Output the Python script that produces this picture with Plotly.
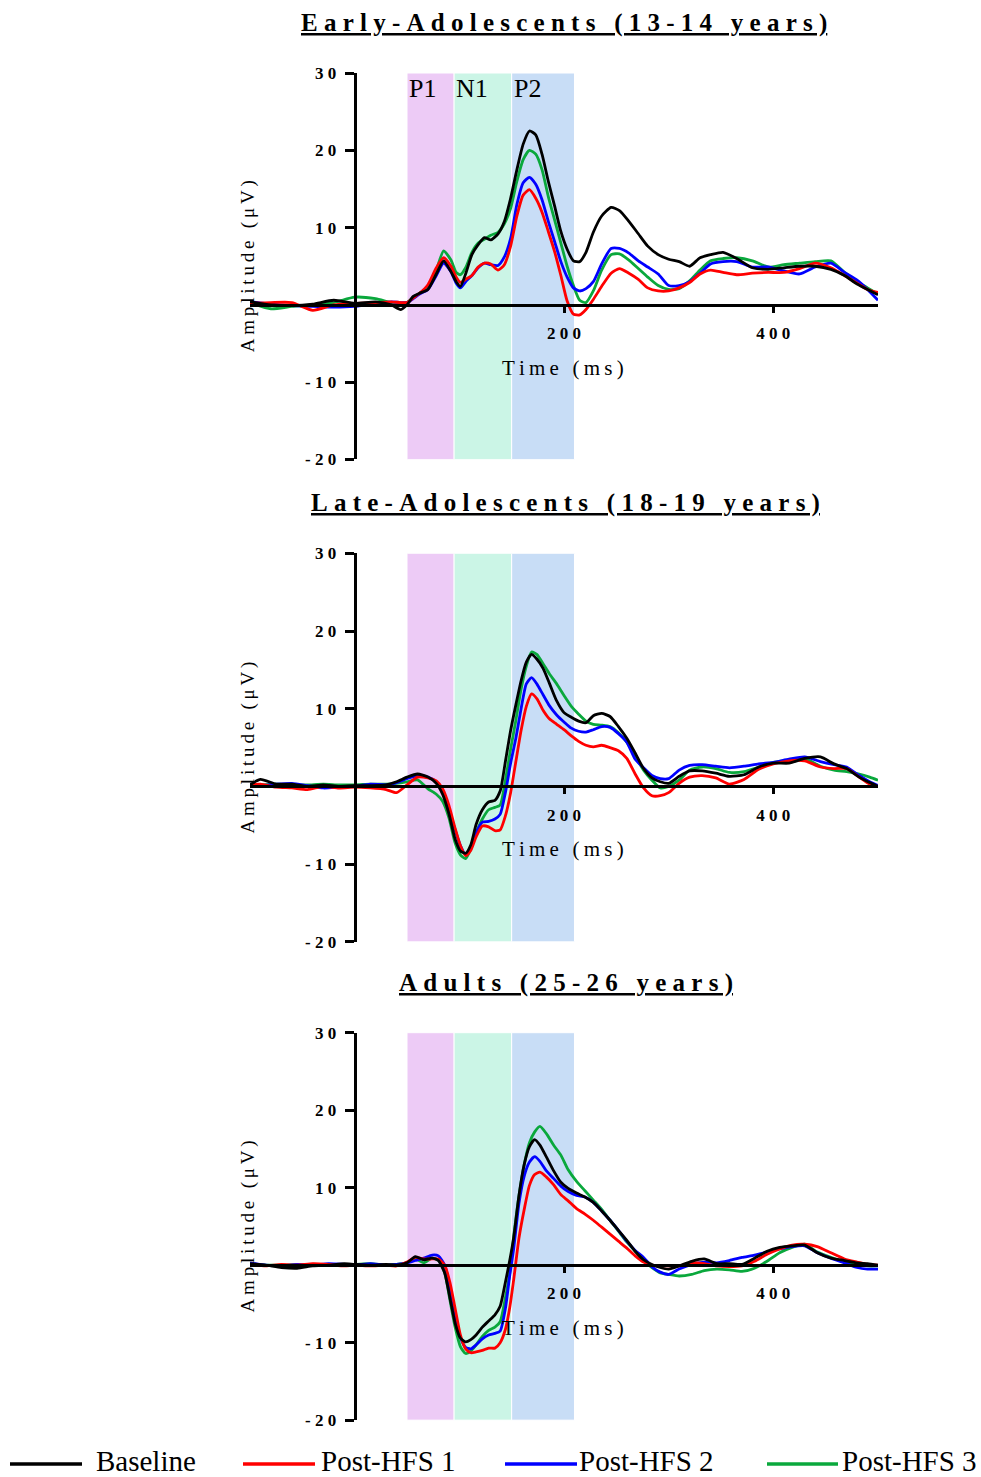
import plotly.graph_objects as go

FIG_W = 981
PAGE_OFFSET = 8          # page margin above the figure
VIEW_SCALE = 0.9886      # vertical scale observed between page and picture
LAYOUT_H = 1490

# ------------------------------------------------------------------ data
TIME_EARLY = [-100, -80, -60, -40, -20, 0, 20, 35, 44, 50,
              56, 62, 70, 78, 85, 92, 97, 101, 106, 112,
              118, 124, 130, 137, 143, 149, 155, 161, 167, 173,
              179, 185, 191, 197, 203, 209, 215, 221, 228, 236,
              245, 253, 262, 271, 280, 290, 300, 310, 320, 330,
              340, 352, 365, 380, 395, 410, 425, 440, 455, 468,
              480, 490, 500]
EARLY_BASELINE = [0.4, 0.0, -0.1, 0.1, 0.6, 0.2, 0.4, 0.0, -0.6, 0.0,
                  1.1, 1.5, 2.0, 4.0, 5.7, 4.3, 3.0, 2.4, 4.0, 6.5,
                  7.8, 8.7, 8.4, 9.2, 10.8, 13.8, 17.5, 20.8, 22.5, 22.0,
                  19.5, 16.0, 12.8, 9.5, 7.2, 5.7, 5.6, 6.8, 9.4, 11.5,
                  12.6, 12.2, 10.8, 9.2, 7.6, 6.5, 5.9, 5.6, 5.0, 6.1,
                  6.5, 6.8, 6.0, 4.8, 4.6, 4.8, 5.0, 5.0, 4.6, 3.8,
                  2.7, 2.0, 1.3]
EARLY_POST1 = [0.2, 0.3, 0.3, -0.7, 0.0, 0.2, 0.3, 0.4, 0.3, 0.3,
               0.9, 1.5, 2.6, 4.8, 6.1, 5.0, 3.6, 2.9, 3.3, 3.8,
               4.9, 5.4, 5.3, 4.5, 5.2, 7.6, 11.5, 14.2, 14.9, 13.8,
               12.0, 9.5, 6.9, 3.8, 0.5, -1.2, -1.3, -0.6, 0.7, 2.4,
               4.1, 4.7, 4.1, 3.3, 2.2, 1.8, 1.8, 2.2, 2.9, 4.0,
               4.5, 4.2, 3.9, 4.1, 4.2, 4.2, 4.7, 5.4, 4.8, 3.8,
               2.8, 2.0, 1.6]
EARLY_POST2 = [0.4, 0.1, -0.1, -0.2, -0.3, -0.2, 0.2, 0.4, 0.3, 0.3,
               0.8, 1.4, 2.0, 3.8, 5.4, 4.3, 2.8, 2.2, 3.0, 3.8,
               4.8, 5.4, 5.2, 5.1, 6.2, 8.6, 13.0, 15.8, 16.5, 15.6,
               13.6, 10.8, 8.2, 5.6, 3.6, 2.2, 1.8, 2.1, 3.0, 5.3,
               7.3, 7.3, 6.7, 5.7, 4.9, 4.0, 2.5, 2.5, 3.0, 4.1,
               5.3, 5.6, 5.6, 4.9, 4.9, 4.4, 4.0, 4.9, 5.4, 4.2,
               3.2, 2.0, 0.6]
EARLY_POST3 = [0.3, -0.5, -0.2, 0.0, 0.3, 1.0, 0.8, 0.3, 0.2, 0.3,
               1.0, 1.5, 2.3, 4.5, 7.0, 5.8, 4.2, 3.9, 4.8, 6.8,
               8.0, 8.5, 9.0, 9.4, 10.5, 12.5, 16.0, 18.8, 20.0, 19.5,
               17.5, 14.0, 11.0, 8.0, 5.0, 2.5, 0.6, 0.3, 1.8, 4.5,
               6.5, 6.6, 5.8, 4.7, 3.6, 2.5, 2.0, 2.1, 3.1, 4.5,
               5.7, 6.0, 6.1, 5.7, 4.9, 5.2, 5.4, 5.6, 5.7, 4.2,
               3.0, 2.2, 1.4]

TIME_LATE = [-100, -90, -75, -60, -45, -30, -15, 0, 15, 30,
             40, 50, 60, 70, 78, 84, 90, 96, 101, 106,
             111, 116, 122, 128, 134, 139, 144, 149, 154, 159,
             164, 169, 174, 180, 186, 193, 200, 207, 214, 221,
             228, 236, 244, 252, 260, 268, 276, 284, 292, 300,
             310, 320, 332, 345, 358, 372, 386, 400, 415, 430,
             445, 458, 470, 482, 492, 500]
LATE_BASELINE = [0.2, 0.9, 0.3, 0.3, 0.0, 0.2, 0.0, 0.1, 0.1, 0.2,
                 0.6, 1.2, 1.6, 1.2, 0.4, -1.0, -3.5, -6.8, -8.3, -8.6,
                 -7.5, -4.9, -3.0, -2.0, -1.8, -0.6, 3.2, 7.2, 10.5, 13.6,
                 16.0, 17.0, 16.4, 15.2, 13.3, 11.0, 9.5, 8.9, 8.4, 8.2,
                 9.1, 9.4, 9.0, 7.7, 6.2, 4.3, 2.3, 1.1, 0.6, 0.4,
                 1.3, 2.0, 2.0, 1.7, 1.3, 1.5, 2.5, 3.0, 3.0, 3.6,
                 3.8, 2.9, 2.3, 1.2, 0.5, 0.0]
LATE_POST1 = [0.2, 0.3, -0.1, -0.2, -0.4, 0.0, -0.2, -0.1, -0.2, -0.4,
              -0.8, 0.2, 1.2, 1.1, 0.7, -0.3, -2.4, -5.4, -7.6, -8.9,
              -8.2, -6.5, -5.1, -5.2, -5.7, -5.6, -3.8, -0.8, 3.2, 7.2,
              10.3, 11.9, 11.3, 9.8, 8.7, 8.0, 7.3, 6.5, 5.8, 5.3,
              5.1, 5.3, 5.0, 4.6, 3.6, 1.6, -0.2, -1.2, -1.2, -0.8,
              0.4, 1.2, 1.4, 1.1, 0.3, 0.9, 2.2, 2.9, 3.3, 3.3,
              2.5, 2.3, 2.3, 1.2, 0.3, 0.0]
LATE_POST2 = [0.3, 0.1, 0.3, 0.4, 0.1, -0.2, -0.1, 0.0, 0.3, 0.2,
              0.5, 1.0, 1.4, 1.2, 0.6, -0.6, -3.0, -5.6, -7.6, -8.8,
              -8.0, -6.0, -4.6, -4.5, -4.2, -3.6, -0.8, 3.0, 6.2, 10.0,
              13.2, 14.0, 13.2, 11.8, 10.4, 9.2, 8.3, 7.5, 7.1, 7.0,
              7.3, 7.7, 7.6, 6.8, 5.7, 3.5, 2.4, 1.4, 1.0, 1.0,
              2.1, 2.7, 2.8, 2.6, 2.4, 2.6, 2.9, 3.1, 3.5, 3.8,
              3.2, 2.8, 2.5, 1.4, 0.6, 0.1]
LATE_POST3 = [0.1, 0.2, 0.3, 0.2, 0.2, 0.3, 0.2, 0.2, 0.3, 0.3,
              0.4, 0.6, 0.85, -0.3, -1.0, -1.9, -4.0, -7.3, -8.8, -9.3,
              -8.0, -6.0, -4.2, -3.0, -2.7, -2.4, 0.8, 4.8, 8.5, 12.5,
              15.5, 17.3, 17.0, 15.8, 14.5, 13.2, 11.7, 10.3, 9.3, 8.4,
              8.0, 7.9, 7.7, 6.9, 5.7, 3.9, 2.1, 0.8, -0.2, 0.0,
              0.8, 2.1, 2.5, 2.3, 1.8, 1.9, 2.5, 3.1, 3.4, 3.6,
              2.6, 2.1, 1.9, 1.6, 1.2, 0.8]

TIME_ADULT = [-100, -85, -70, -55, -40, -25, -10, 0, 15, 30,
              40, 50, 58, 66, 74, 80, 86, 91, 96, 101,
              106, 111, 116, 122, 128, 134, 139, 144, 148, 152,
              157, 162, 167, 172, 177, 183, 190, 197, 204, 212,
              220, 228, 236, 244, 252, 260, 268, 276, 284, 292,
              300, 310, 322, 334, 346, 358, 370, 382, 394, 406,
              418, 430, 442, 455, 468, 480, 490, 500]
ADULT_BASELINE = [0.2, 0.0, -0.3, -0.4, -0.1, 0.0, 0.2, 0.1, 0.0, 0.1,
                  0.0, 0.3, 1.1, 0.7, 0.9, 0.6, -1.0, -4.2, -7.5, -9.4,
                  -9.9, -9.6, -9.0, -8.0, -7.2, -6.4, -5.3, -2.2, 0.5, 3.6,
                  9.0, 13.0, 15.3, 16.2, 15.5, 14.0, 12.2, 10.7, 9.9, 9.3,
                  8.8, 8.1, 7.0, 5.8, 4.5, 3.2, 1.8, 0.7, 0.1, -0.3,
                  -0.5, -0.1, 0.5, 0.8, 0.2, 0.2, 0.1, 0.9, 1.8, 2.3,
                  2.5, 2.6, 1.6, 0.9, 0.6, 0.3, 0.2, 0.0]
ADULT_POST1 = [0.1, -0.1, 0.1, 0.0, 0.2, 0.1, -0.1, 0.0, -0.1, 0.0,
               -0.1, 0.4, 1.0, 0.8, 0.8, 0.8, 0.0, -2.2, -5.6, -9.0,
               -10.8, -11.3, -11.2, -11.0, -10.7, -10.7, -10.0, -8.3, -5.6, -1.8,
               3.5, 7.2, 10.3, 11.7, 12.0, 11.4, 10.4, 9.1, 8.3, 7.3,
               6.6, 5.8, 4.9, 4.0, 3.1, 2.2, 1.2, 0.4, 0.0, -0.1,
               -0.1, -0.1, 0.3, 0.2, -0.1, -0.2, -0.1, 0.5, 1.4, 2.1,
               2.6, 2.7, 2.4, 1.6, 0.8, 0.4, 0.1, 0.0]
ADULT_POST2 = [0.3, 0.0, -0.1, 0.1, 0.0, 0.2, 0.1, 0.0, 0.2, 0.0,
               0.1, 0.3, 0.6, 0.9, 1.3, 1.2, 0.0, -2.8, -6.2, -9.3,
               -10.6, -10.8, -10.3, -9.5, -9.0, -8.8, -8.5, -5.6, -1.5, 2.2,
               8.0, 11.5, 13.3, 14.0, 13.4, 12.2, 11.2, 10.2, 9.5, 9.0,
               8.8, 8.1, 7.0, 5.8, 4.5, 3.1, 1.9, 1.0, -0.2, -0.9,
               -1.2, -0.5, 0.1, 0.4, 0.3, 0.6, 1.0, 1.3, 1.7, 2.1,
               2.4, 2.5, 1.6, 0.9, 0.3, -0.3, -0.5, -0.5]
ADULT_POST3 = [0.1, 0.0, 0.0, 0.1, 0.1, 0.0, 0.1, 0.1, 0.2, 0.0,
               0.1, 0.3, 0.8, 0.3, 0.9, 0.6, -1.0, -4.5, -8.0, -10.5,
               -11.4, -11.1, -10.3, -9.2, -8.4, -8.0, -7.3, -4.2, -1.2, 3.8,
               9.0, 13.0, 15.8, 17.2, 17.9, 17.0, 15.5, 14.2, 12.3, 10.8,
               9.6, 8.4, 7.2, 5.8, 4.4, 3.0, 1.8, 0.6, -0.3, -1.0,
               -1.2, -1.4, -1.2, -0.7, -0.5, -0.6, -0.8, -0.4, 0.5, 1.6,
               2.3, 2.7, 1.7, 1.0, 0.4, 0.1, -0.1, -0.1]

PANEL_TITLES = ["Early-Adolescents (13-14 years)",
                "Late-Adolescents (18-19 years)",
                "Adults (25-26 years)"]
SERIES_NAMES = ["Baseline", "Post-HFS 1", "Post-HFS 2", "Post-HFS 3"]
COMPONENT_NAMES = ["P1", "N1", "P2"]
COMPONENT_START = [50, 95, 150]
COMPONENT_END = [95, 150, 210]
Y_TICK_VALUES = [-20, -10, 10, 20, 30]
X_TICK_VALUES = [200, 400]
X_TITLE = "Time (ms)"
Y_TITLE = "Amplitude (μV)"

PANELS = [
    (TIME_EARLY, [EARLY_BASELINE, EARLY_POST1, EARLY_POST2, EARLY_POST3]),
    (TIME_LATE, [LATE_BASELINE, LATE_POST1, LATE_POST2, LATE_POST3]),
    (TIME_ADULT, [ADULT_BASELINE, ADULT_POST1, ADULT_POST2, ADULT_POST3]),
]
for _t, _ss in PANELS:
    for _s in _ss:
        assert len(_s) == len(_t), (len(_s), len(_t))

# ------------------------------------------------------------------ style
COLORS = ["#000000", "#FF0000", "#0000FF", "#0AA83C"]
FILLS = ["#EDCBF6", "#CBF5E6", "#C8DDF6"]
DRAW_ORDER = [3, 2, 1, 0]
SERIF = "Liberation Serif, Times New Roman, serif"
X_RANGE = [-100, 500]
Y_RANGE = [-20, 30]
X_PX = (250, 878)
PANEL_PX = [(72, 459), (553, 942), (1033, 1421)]
TITLE_PY = [22, 503, 983]
TITLE_PX = [564, 565, 566]
LEGEND_PY = 1465
LEGEND_LINE_PX = [(10, 82), (243, 315), (505, 577), (767, 838)]
LEGEND_TEXT_PX = [94, 319, 577, 840]

EM4 = "\u2005"   # four-per-em space
THIN = "\u2009"  # thin space


def spaced_all(s, sep):
    return sep.join(list(s))


def spaced_words(s, sep):
    return (sep + " " + sep).join(sep.join(list(w)) for w in s.split(" "))


def px_x(px):
    return px / FIG_W


def px_y(py):
    # target picture row -> paper coordinate of the figure
    return 1 - (py / VIEW_SCALE - PAGE_OFFSET) / LAYOUT_H


fig = go.Figure()
annotations = []
shapes = []
axes = {}

x_dom = [px_x(X_PX[0]), px_x(X_PX[1])]
zero_px = X_PX[0] + (0 - X_RANGE[0]) / (X_RANGE[1] - X_RANGE[0]) * (X_PX[1] - X_PX[0])
tick_font = dict(family=SERIF, size=17, color="black")

for i, (time, series) in enumerate(PANELS):
    n = i + 1
    xa = "x" if n == 1 else f"x{n}"
    ya = "y" if n == 1 else f"y{n}"
    top, bot = PANEL_PX[i]
    zero_py = bot - (0 - Y_RANGE[0]) / (Y_RANGE[1] - Y_RANGE[0]) * (bot - top)

    for k in DRAW_ORDER:
        fig.add_trace(go.Scatter(
            x=time, y=series[k], mode="lines", name=SERIES_NAMES[k],
            line=dict(color=COLORS[k], width=2.8, shape="spline", smoothing=0.6),
            xaxis=xa, yaxis=ya, showlegend=False, hoverinfo="skip"))

    for j in range(3):
        shapes.append(dict(type="rect", xref=xa, yref=ya,
                           x0=COMPONENT_START[j], x1=COMPONENT_END[j],
                           y0=Y_RANGE[0], y1=Y_RANGE[1],
                           fillcolor=FILLS[j], line=dict(color="white", width=1),
                           layer="below"))

    axes["xaxis" + ("" if n == 1 else str(n))] = dict(
        domain=x_dom, range=X_RANGE, anchor="free", position=px_y(zero_py),
        showline=True, linecolor="black", linewidth=2.6,
        showgrid=False, zeroline=False,
        ticks="outside", ticklen=6, tickwidth=3, tickcolor="black",
        tickvals=X_TICK_VALUES,
        ticktext=["<b>" + spaced_all(str(v), EM4) + "</b>" for v in X_TICK_VALUES],
        tickfont=tick_font, ticklabelstandoff=6, fixedrange=True)
    axes["yaxis" + ("" if n == 1 else str(n))] = dict(
        domain=[px_y(bot), px_y(top)], range=Y_RANGE, anchor="free",
        position=px_x(zero_px),
        showline=True, linecolor="black", linewidth=3,
        showgrid=False, zeroline=False,
        ticks="outside", ticklen=9, tickwidth=3, tickcolor="black",
        tickvals=Y_TICK_VALUES,
        ticktext=["<b>" + spaced_all(str(v), EM4) + "</b>" for v in Y_TICK_VALUES],
        tickfont=tick_font, ticklabelstandoff=5, fixedrange=True)

    # panel title
    annotations.append(dict(
        x=px_x(TITLE_PX[i]), y=px_y(TITLE_PY[i]), xref="paper", yref="paper",
        text=spaced_all(PANEL_TITLES[i], EM4), showarrow=False,
        xanchor="center", yanchor="middle",
        font=dict(family=SERIF, size=25, color="black", weight="bold",
                  lineposition="under")))
    # y-axis title
    annotations.append(dict(
        x=px_x(248), y=px_y((top + bot) / 2), xref="paper", yref="paper",
        text=spaced_words(Y_TITLE, THIN), showarrow=False, textangle=-90,
        xanchor="center", yanchor="middle",
        font=dict(family=SERIF, size=19, color="black")))
    # x-axis title
    annotations.append(dict(
        x=px_x(563), y=px_y(zero_py + 63), xref="paper", yref="paper",
        text=spaced_words(X_TITLE, THIN), showarrow=False,
        xanchor="center", yanchor="middle",
        font=dict(family=SERIF, size=21, color="black")))

    if n == 1:
        for j in range(3):
            annotations.append(dict(
                x=COMPONENT_START[j], y=px_y(88), xref=xa, yref="paper",
                text=COMPONENT_NAMES[j], showarrow=False,
                xanchor="left", yanchor="middle",
                font=dict(family=SERIF, size=26, color="black")))

# manual legend along the bottom
for k in range(4):
    x0, x1 = LEGEND_LINE_PX[k]
    shapes.append(dict(type="line", xref="paper", yref="paper",
                       x0=px_x(x0), x1=px_x(x1), y0=px_y(LEGEND_PY), y1=px_y(LEGEND_PY),
                       line=dict(color=COLORS[k], width=3.5)))
    annotations.append(dict(
        x=px_x(LEGEND_TEXT_PX[k]), y=px_y(LEGEND_PY - 3), xref="paper", yref="paper",
        text=SERIES_NAMES[k], showarrow=False, xanchor="left", yanchor="middle",
        font=dict(family=SERIF, size=29, color="black")))

fig.update_layout(
    width=FIG_W, height=LAYOUT_H,
    margin=dict(l=0, r=0, t=0, b=0),
    paper_bgcolor="white", plot_bgcolor="white",
    showlegend=False,
    shapes=shapes, annotations=annotations,
    **axes)

fig.write_html("out.html", config={"displayModeBar": False})
